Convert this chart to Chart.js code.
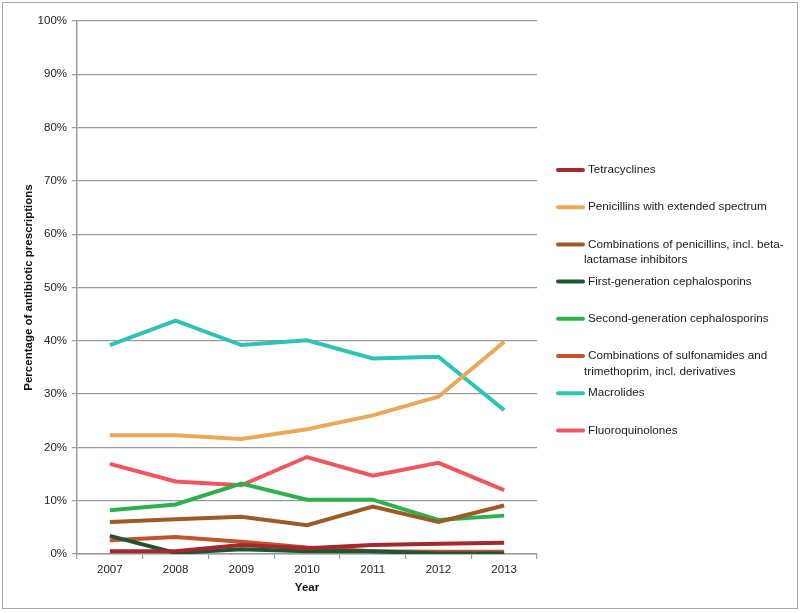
<!DOCTYPE html>
<html>
<head>
<meta charset="utf-8">
<style>
  body { margin: 0; background: #fff; }
  #wrap { position: relative; width: 800px; height: 613px; }
  #frame { position: absolute; left: 2px; top: 2px; width: 794px; height: 605px; border: 1px solid #a8a8a8; pointer-events: none; }
</style>
<script src="https://cdn.jsdelivr.net/npm/chart.js@4.4.1/dist/chart.umd.min.js"></script>
</head>
<body>
<div id="wrap">
  <canvas id="abxChart" width="800" height="613"></canvas>
  <div id="frame"></div>
</div>
<script>
const years = ['2007', '2008', '2009', '2010', '2011', '2012', '2013'];

const seriesNames = [
    ['Tetracyclines'],
    ['Penicillins with extended spectrum'],
    ['Combinations of penicillins, incl. beta-', 'lactamase inhibitors'],
    ['First-generation cephalosporins'],
    ['Second-generation cephalosporins'],
    ['Combinations of sulfonamides and', 'trimethoprim, incl. derivatives'],
    ['Macrolides'],
    ['Fluoroquinolones']
];
const seriesColors = ['#a3282f', '#e9a95a', '#9b5b24', '#1d5630', '#2fb04f', '#c2532f', '#2fc4b2', '#f0565f'];

const tetracyclines = [0.5, 0.5, 1.7, 1.1, 1.7, 1.9, 2.1];
const penicillinsExt = [22.3, 22.3, 21.6, 23.4, 26.0, 29.5, 39.8];
const penicillinCombos = [6.0, 6.5, 7.0, 5.4, 8.9, 6.0, 9.1];
const firstGenCeph = [3.4, 0.2, 0.9, 0.5, 0.5, 0.1, 0.1];
const secondGenCeph = [8.2, 9.3, 13.2, 10.2, 10.2, 6.4, 7.2];
const sulfonamides = [2.6, 3.2, 2.3, 1.2, 0.5, 0.4, 0.4];
const macrolides = [39.2, 43.8, 39.2, 40.1, 36.7, 37.0, 27.0];
const fluoroquinolones = [16.9, 13.6, 12.9, 18.2, 14.7, 17.1, 12.0];

const allSeries = [tetracyclines, penicillinsExt, penicillinCombos, firstGenCeph, secondGenCeph, sulfonamides, macrolides, fluoroquinolones];

const yTicks = [0, 10, 20, 30, 40, 50, 60, 70, 80, 90, 100];

const fontFamily = '"Liberation Sans", Arial, Helvetica, sans-serif';

// legend drawn by hand so the wrapped labels look like the original
const sideLegend = {
    id: 'sideLegend',
    afterDraw(chart) {
        const ctx = chart.ctx;
        ctx.save();
        ctx.font = '11.7px ' + fontFamily;
        ctx.textBaseline = 'middle';
        chart.data.datasets.forEach((ds, i) => {
            const y = 170 + i * 37.2;
            ctx.strokeStyle = ds.borderColor;
            ctx.lineWidth = 4;
            ctx.lineCap = 'round';
            ctx.beginPath();
            ctx.moveTo(558, y);
            ctx.lineTo(583, y);
            ctx.stroke();
            ctx.fillStyle = '#1a1a1a';
            seriesNames[i].forEach((line, j) => {
                ctx.fillText(line, j === 0 ? 588 : 584, y + j * 15.5);
            });
        });
        ctx.restore();
    }
};

const ctx = document.getElementById('abxChart').getContext('2d');
new Chart(ctx, {
    type: 'line',
    data: {
        labels: years,
        datasets: allSeries.map((vals, i) => ({
            label: seriesNames[i].join(' '),
            data: vals,
            borderColor: seriesColors[i],
            backgroundColor: seriesColors[i],
            borderWidth: 4,
            pointRadius: 0,
            tension: 0,
            fill: false
        }))
    },
    options: {
        responsive: false,
        animation: false,
        layout: { padding: { top: 21, right: 263, left: 0, bottom: 0 } },
        scales: {
            x: {
                offset: true,
                grid: { display: true, drawOnChartArea: false, tickLength: 5, offset: true, color: '#9a9a9a', lineWidth: 1.2 },
                border: { color: '#9a9a9a', width: 1.5 },
                ticks: { color: '#222', font: { family: fontFamily, size: 11.5 }, padding: 4 },
                title: { display: true, text: 'Year', color: '#111', font: { family: fontFamily, size: 11.5, weight: 'bold' }, padding: { top: 2, bottom: 18 } },
                afterFit(scale) { scale.height = 59; }
            },
            y: {
                min: 0,
                max: 100,
                afterBuildTicks(scale) { scale.ticks = yTicks.map(v => ({ value: v })); },
                grid: { color: '#9a9a9a', lineWidth: 1.2, tickLength: 5 },
                border: { color: '#9a9a9a', width: 1.5 },
                ticks: { color: '#222', font: { family: fontFamily, size: 11.5 }, padding: 5, callback: v => v + '%' },
                title: { display: true, text: 'Percentage of antibiotic prescriptions', color: '#111', font: { family: fontFamily, size: 11.5, weight: 'bold' }, padding: { top: 22, bottom: 4 } },
                afterFit(scale) { scale.width = 77; }
            }
        },
        plugins: {
            legend: { display: false },
            tooltip: { enabled: false }
        }
    },
    plugins: [sideLegend]
});
</script>
</body>
</html>
